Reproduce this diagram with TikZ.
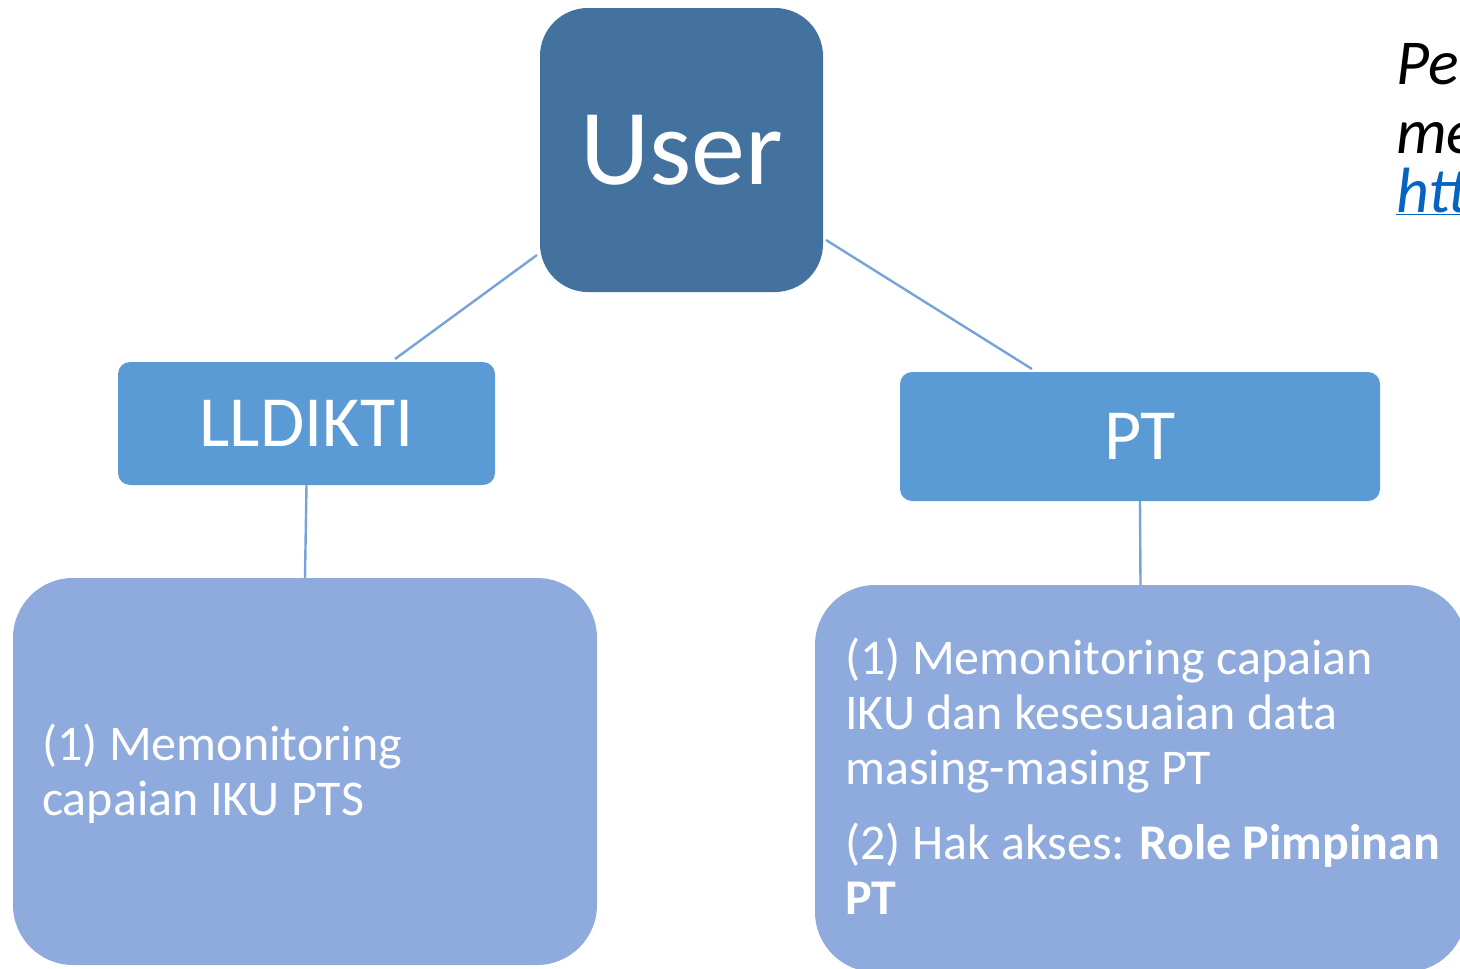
\documentclass[tikz,border=0pt]{standalone}
\usepackage{fontspec}
\setmainfont{Carlito}
\definecolor{userblue}{RGB}{68,114,158}
\definecolor{midblue}{RGB}{91,155,213}
\definecolor{lightblue}{RGB}{143,170,220}
\definecolor{linkblue}{RGB}{5,99,193}
\definecolor{connblue}{RGB}{118,163,218}
\tikzset{
  userbox/.style={fill=userblue, draw=none, rounded corners=48pt, text=white, font=\fontsize{108}{120}\selectfont, inner sep=0pt},
  rolebox/.style={fill=midblue, draw=none, rounded corners=12pt, text=white, font=\fontsize{72}{80}\selectfont, inner sep=0pt},
  taskbox/.style={fill=lightblue, draw=none, rounded corners=60pt, inner sep=0pt},
  tasktext/.style={text=white, font=\fontsize{50}{55}\selectfont, inner sep=0pt, anchor=base west},
  conn/.style={draw=connblue, line width=2.4pt},
  sidetext/.style={font=\fontsize{64}{70}\selectfont\itshape, inner sep=0pt, anchor=base west}
}
\begin{document}
\begin{tikzpicture}[x=1pt,y=-1pt]
\useasboundingbox (0,0) rectangle (1460,969);
\clip (0,0) rectangle (1460,969);
% boxes
\node[userbox, minimum width=283pt, minimum height=284pt] (user) at (681.5,150) {User};
\node[rolebox, minimum width=377pt, minimum height=123pt] (lld) at (306.5,423.5) {LLDIKTI};
\node[rolebox, minimum width=480pt, minimum height=129pt] (pt) at (1140,436.5) {PT};
\node[taskbox, minimum width=584pt, minimum height=387pt] (lbox) at (305,771.5) {};
\node[taskbox, minimum width=651pt, minimum height=387pt] (rbox) at (1140.5,778.5) {};
% connectors
\coordinate (u1) at (537,255);
\coordinate (u2) at (826,240);
\coordinate (l1) at (395,359);
\coordinate (p1) at (1032,369);
\draw[conn] (u1) -- (l1);
\draw[conn] (u2) -- (p1);
\draw[conn] (lld.south) -- (lbox.north);
\draw[conn] (pt.south) -- (rbox.north);
% texts in left box
\node[tasktext] (lt1) at (42,760) {(1) Memonitoring};
\node[tasktext] (lt2) at (42,815) {capaian IKU PTS};
% texts in right box
\node[tasktext] (rt1) at (845,674) {(1) Memonitoring capaian};
\node[tasktext] (rt2) at (845,729) {IKU dan kesesuaian data};
\node[tasktext] (rt3) at (845,784) {masing-masing PT};
\node[tasktext] (rt4) at (845,859) {(2) Hak akses: \textbf{Role Pimpinan}};
\node[tasktext] (rt5) at (845,914) {\textbf{PT}};
% side text (cropped at the right edge, as in the reference)
\node[sidetext] (s1) at (1396,84) {Pe};
\node[sidetext] (s2) at (1396,153) {me};
\node[sidetext, text=linkblue] (s3) at (1396,212) {\underline{htt}};
\end{tikzpicture}
\end{document}
